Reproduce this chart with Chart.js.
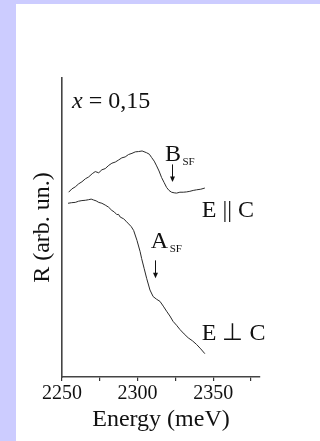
<!DOCTYPE html>
<html>
<head>
<meta charset="utf-8">
<script src="https://cdn.jsdelivr.net/npm/chart.js@4/dist/chart.umd.min.js"></script>
<style>
  html, body { margin: 0; padding: 0; background: #ccccff; }
  body { width: 320px; height: 441px; position: relative; overflow: hidden; }
  #panel { position: absolute; left: 16px; top: 4px; right: 0; bottom: 0; background: #ffffff; }
  #wrap { position: absolute; left: 0; top: 0; width: 320px; height: 441px; }
</style>
</head>
<body>
<div id="panel"></div>
<div id="wrap"><canvas id="c" width="320" height="441"></canvas></div>
<script>
// Reflectance spectra, x = 0,15 (energy in meV, R in arbitrary units)
const energyPar = [2254.4, 2256.5, 2258.8, 2261.0, 2263.2, 2265.5, 2267.6, 2270.0, 2272.0, 2274.3, 2276.4, 2278.6, 2281.0, 2283.0, 2285.3, 2287.5, 2289.6, 2291.8, 2294.0, 2296.3, 2298.5, 2300.7, 2303.0, 2306.0, 2307.8, 2309.3, 2311.0, 2312.6, 2314.2, 2315.9, 2317.6, 2319.2, 2320.8, 2322.5, 2324.2, 2325.8, 2328.0, 2330.2, 2332.4, 2334.6, 2336.8, 2339.0, 2341.8, 2344.5];
const reflPar   = [61.8, 62.9, 63.6, 64.6, 65.3, 66.3, 66.9, 68.0, 68.7, 68.3, 69.3, 69.7, 70.8, 71.5, 71.9, 72.6, 73.3, 73.6, 74.4, 74.8, 75.3, 75.4, 75.6, 75.0, 74.5, 73.4, 72.2, 70.6, 68.9, 66.7, 65.0, 63.4, 62.4, 61.8, 61.6, 61.5, 61.8, 61.8, 61.9, 62.1, 62.4, 62.6, 62.8, 63.2];

const energyPerp = [2254.0, 2256.4, 2258.8, 2261.0, 2263.2, 2265.4, 2267.6, 2269.3, 2270.9, 2272.6, 2274.3, 2276.4, 2278.6, 2280.8, 2283.0, 2284.6, 2286.3, 2287.4, 2288.5, 2290.8, 2292.4, 2294.1, 2295.8, 2297.4, 2299.6, 2301.7, 2302.7, 2304.4, 2306.0, 2308.2, 2310.3, 2312.6, 2314.8, 2317.0, 2319.2, 2321.4, 2323.5, 2325.8, 2328.0, 2330.8, 2333.5, 2336.3, 2339.0, 2341.8, 2344.5];
const reflPerp   = [58.1, 58.3, 58.4, 58.8, 59.0, 59.1, 59.3, 59.5, 59.2, 58.9, 58.4, 58.1, 57.5, 56.8, 55.7, 55.2, 54.3, 54.4, 53.5, 52.9, 52.1, 51.2, 50.3, 49.0, 45.7, 41.9, 39.6, 36.2, 33.0, 29.1, 26.9, 26.0, 25.3, 23.7, 22.0, 20.4, 18.6, 17.3, 15.9, 14.4, 13.1, 12.1, 10.9, 9.4, 7.8];

// x-axis tick values (minor ticks every 25 meV, labels every 50 meV)
const xTicks = [2250, 2275, 2300, 2325, 2350, 2375];
const xLabelled = [2250, 2300, 2350];

const SERIF = "'Liberation Serif', 'Times New Roman', serif";
const INK = '#111111';

function toPoints(xs, ys) { return xs.map((x, i) => ({ x: x, y: ys[i] })); }

// Text labels and arrows, placed in data coordinates
const labels = [
  { parts: [{ t: 'x', italic: true }, { t: ' = 0,15' }], e: 2256.6, r: 90.0 },
  { parts: [{ t: 'B' }, { t: 'SF', sub: true }], e: 2318.1, r: 72.2 },
  { parts: [{ t: 'E || C' }], e: 2342.5, r: 53.6 },
  { parts: [{ t: 'A' }, { t: 'SF', sub: true }], e: 2308.8, r: 43.0 },
  { parts: [{ t: 'E \u22A5 C' }], e: 2342.5, r: 12.4 }
];
const arrows = [
  { e: 2322.7, from: 71.1, to: 65.2 },
  { e: 2311.8, from: 39.0, to: 33.0 }
];

const annotate = {
  id: 'annotate',
  afterDraw(chart) {
    const ctx = chart.ctx;
    const sx = chart.scales.x, sy = chart.scales.y;
    ctx.save();
    ctx.fillStyle = INK;
    ctx.strokeStyle = INK;
    ctx.textBaseline = 'alphabetic';
    ctx.textAlign = 'left';
    labels.forEach(l => {
      let x = sx.getPixelForValue(l.e);
      const y = sy.getPixelForValue(l.r);
      l.parts.forEach(p => {
        if (p.sub) {
          ctx.font = '11px ' + SERIF;
          ctx.fillText(p.t, x + 1.5, y + 3.5);
          x += ctx.measureText(p.t).width + 1.5;
        } else {
          ctx.font = (p.italic ? 'italic ' : '') + '24px ' + SERIF;
          ctx.fillText(p.t, x, y);
          x += ctx.measureText(p.t).width;
        }
      });
    });
    arrows.forEach(a => {
      const x = Math.round(sx.getPixelForValue(a.e)) + 0.5;
      const y0 = sy.getPixelForValue(a.from);
      const y1 = sy.getPixelForValue(a.to);
      ctx.lineWidth = 1;
      ctx.beginPath();
      ctx.moveTo(x, y0);
      ctx.lineTo(x, y1 - 4);
      ctx.stroke();
      ctx.beginPath();
      ctx.moveTo(x - 2.5, y1 - 5.5);
      ctx.lineTo(x + 2.5, y1 - 5.5);
      ctx.lineTo(x, y1);
      ctx.closePath();
      ctx.fill();
    });
    ctx.restore();
  }
};

new Chart(document.getElementById('c'), {
  type: 'scatter',
  data: {
    datasets: [
      { label: 'E || C', data: toPoints(energyPar, reflPar) },
      { label: 'E \u22A5 C', data: toPoints(energyPerp, reflPerp) }
    ]
  },
  options: {
    responsive: false,
    animation: false,
    events: [],
    showLine: true,
    elements: {
      point: { radius: 0 },
      line: { borderColor: '#2a2a2a', borderWidth: 1, tension: 0 }
    },
    datasets: { scatter: { borderColor: '#2a2a2a', backgroundColor: '#2a2a2a' } },
    layout: { padding: { left: 27, top: 78, right: 60, bottom: 2 } },
    plugins: { legend: { display: false }, tooltip: { enabled: false }, title: { display: false } },
    scales: {
      x: {
        type: 'linear',
        min: 2250,
        max: 2381,
        afterBuildTicks(scale) { scale.ticks = xTicks.map(v => ({ value: v })); },
        ticks: {
          callback: v => (xLabelled.includes(v) ? String(v) : ''),
          color: INK,
          padding: 3,
          maxRotation: 0,
          autoSkip: false,
          font: { family: SERIF, size: 20, lineHeight: 1 }
        },
        grid: { display: true, drawOnChartArea: false, drawTicks: true, tickLength: 4, color: '#333333', lineWidth: 1.2 },
        border: { display: true, color: '#444444', width: 1.6 },
        title: {
          display: true,
          text: 'Energy (meV)',
          color: INK,
          padding: { top: 1, bottom: 7 },
          font: { family: SERIF, size: 24, lineHeight: 1 }
        }
      },
      y: {
        type: 'linear',
        min: 0,
        max: 100,
        ticks: { display: false },
        grid: { display: false, drawTicks: false, tickLength: 0 },
        border: { display: true, color: '#444444', width: 1.6 },
        title: {
          display: true,
          text: 'R (arb. un.)',
          color: INK,
          padding: { top: 4, bottom: 7 },
          font: { family: SERIF, size: 24, lineHeight: 1 }
        }
      }
    }
  },
  plugins: [annotate]
});
</script>
</body>
</html>
